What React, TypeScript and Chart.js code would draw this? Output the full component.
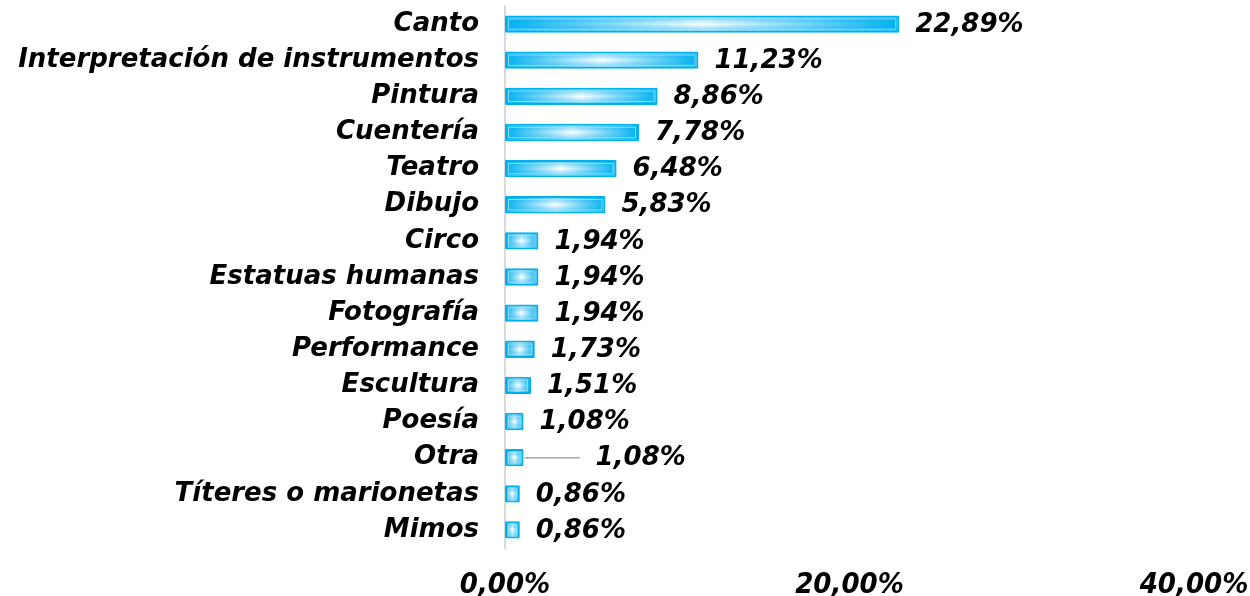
import React, { useEffect, useRef } from "react";
import { Chart, registerables } from "chart.js";

Chart.register(...registerables);

const categories = [
  "Canto",
  "Interpretación de instrumentos",
  "Pintura",
  "Cuentería",
  "Teatro",
  "Dibujo",
  "Circo",
  "Estatuas humanas",
  "Fotografía",
  "Performance",
  "Escultura",
  "Poesía",
  "Otra",
  "Títeres o marionetas",
  "Mimos",
];

const values = [22.89, 11.23, 8.86, 7.78, 6.48, 5.83, 1.94, 1.94, 1.94, 1.73, 1.51, 1.08, 1.08, 0.86, 0.86];

const xTicks = [0, 20, 40];

const FAMILY = "'DejaVu Sans', sans-serif";
const LABEL_FONT = "italic bold 26px 'DejaVu Sans', sans-serif";
const TICK_FONT_FAMILY = "'DejaVu Sans Condensed', 'DejaVu Sans', sans-serif";

const fmt = (v: number) => v.toFixed(2).replace(".", ",") + "%";

const valueLabelPlugin = {
  id: "valueLabels",
  afterDatasetsDraw(chart: any, _args: any, opts: any) {
    const { ctx } = chart;
    const meta = chart.getDatasetMeta(0);
    ctx.save();
    meta.data.forEach((el: any) => {
      const { x, y, base, height } = el.getProps(["x", "y", "base", "height"], true);
      const w = x - base;
      const top = y - height / 2;
      if (w > 4) {
        const vg = ctx.createLinearGradient(0, top + 2, 0, top + height - 2);
        vg.addColorStop(0, "rgba(0,176,240,0.5)");
        vg.addColorStop(0.5, "rgba(0,176,240,0)");
        vg.addColorStop(1, "rgba(0,176,240,0.5)");
        ctx.fillStyle = vg;
        ctx.fillRect(base + 2, top + 2, w - 4, height - 4);
      }
      if (w > 7) {
        ctx.strokeStyle = "rgba(170,228,250,0.8)";
        ctx.lineWidth = 1;
        ctx.strokeRect(base + 3.5, top + 3.5, w - 7, height - 7);
      }
    });
    ctx.font = LABEL_FONT;
    ctx.fillStyle = "#000";
    ctx.textBaseline = "middle";
    ctx.textAlign = "left";
    meta.data.forEach((el: any, i: number) => {
      const { x, y } = el.getProps(["x", "y"], true);
      let tx = x + opts.gap;
      if (i === opts.leaderIndex) {
        ctx.save();
        ctx.strokeStyle = "#a6a6a6";
        ctx.lineWidth = 1.5;
        ctx.beginPath();
        ctx.moveTo(x + 1, y);
        ctx.lineTo(x + opts.leaderLength, y);
        ctx.stroke();
        ctx.restore();
        tx = x + opts.leaderLength + opts.gap;
      }
      ctx.fillText(fmt(values[i]), tx, y + 1);
    });
    ctx.restore();
  },
};

export default function App() {
  const canvasRef = useRef<HTMLCanvasElement | null>(null);

  useEffect(() => {
    document.body.style.margin = "0";
    const canvas = canvasRef.current;
    if (!canvas) return;
    const chart = new Chart(canvas, {
      type: "bar",
      data: {
        labels: categories,
        datasets: [
          {
            data: values,
            backgroundColor: (c: any) => {
              const ch = c.chart;
              const xs = ch.scales && ch.scales.x;
              if (!ch.chartArea || !xs || c.type !== "data") return "#4fc6f2";
              const base = xs.getPixelForValue(0);
              const end = xs.getPixelForValue(c.raw);
              if (!isFinite(base) || !isFinite(end) || end - base < 1) return "#4fc6f2";
              const g = ch.ctx.createLinearGradient(base, 0, end, 0);
              g.addColorStop(0, "#00b0f0");
              g.addColorStop(0.5, "#ffffff");
              g.addColorStop(1, "#00b0f0");
              return g;
            },
            borderColor: "#00b0f0",
            borderWidth: 2,
            borderSkipped: false,
            borderRadius: 1,
            barPercentage: 0.48,
            categoryPercentage: 1,
          },
        ],
      },
      options: {
        indexAxis: "y",
        animation: false,
        responsive: false,
        maintainAspectRatio: false,
        layout: { padding: { top: 6, right: 56, bottom: 0, left: 0 } },
        plugins: {
          legend: { display: false },
          tooltip: { enabled: false },
          valueLabels: { gap: 16, leaderIndex: 12, leaderLength: 56 },
        } as any,
        scales: {
          x: {
            min: 0,
            max: 40,
            afterBuildTicks: (axis: any) => {
              axis.ticks = xTicks.map((v) => ({ value: v }));
            },
            afterFit: (axis: any) => {
              axis.height = 48;
              axis.paddingLeft = 0;
              axis.paddingRight = 0;
            },
            grid: { display: false, drawTicks: false },
            border: { display: false },
            ticks: {
              padding: 20,
              color: "#000",
              font: { family: TICK_FONT_FAMILY, size: 29, style: "italic", weight: "bold" },
              callback: (v: any) => fmt(Number(v)),
              maxRotation: 0,
            },
          },
          y: {
            afterFit: (axis: any) => {
              axis.width = 505;
              axis.paddingTop = 0;
              axis.paddingBottom = 0;
            },
            grid: { display: false, drawTicks: false },
            border: { display: true, color: "#d9d9d9", width: 2 },
            ticks: {
              padding: 26,
              color: "#000",
              font: { family: FAMILY, size: 26, style: "italic", weight: "bold" },
              autoSkip: false,
            },
          },
        },
      },
      plugins: [valueLabelPlugin],
    });
    return () => chart.destroy();
  }, []);

  return (
    <div style={{ position: "absolute", left: 0, top: 0, width: 1250, height: 596, background: "#fff" }}>
      <canvas ref={canvasRef} width={1250} height={596} style={{ width: 1250, height: 596 }} />
    </div>
  );
}
